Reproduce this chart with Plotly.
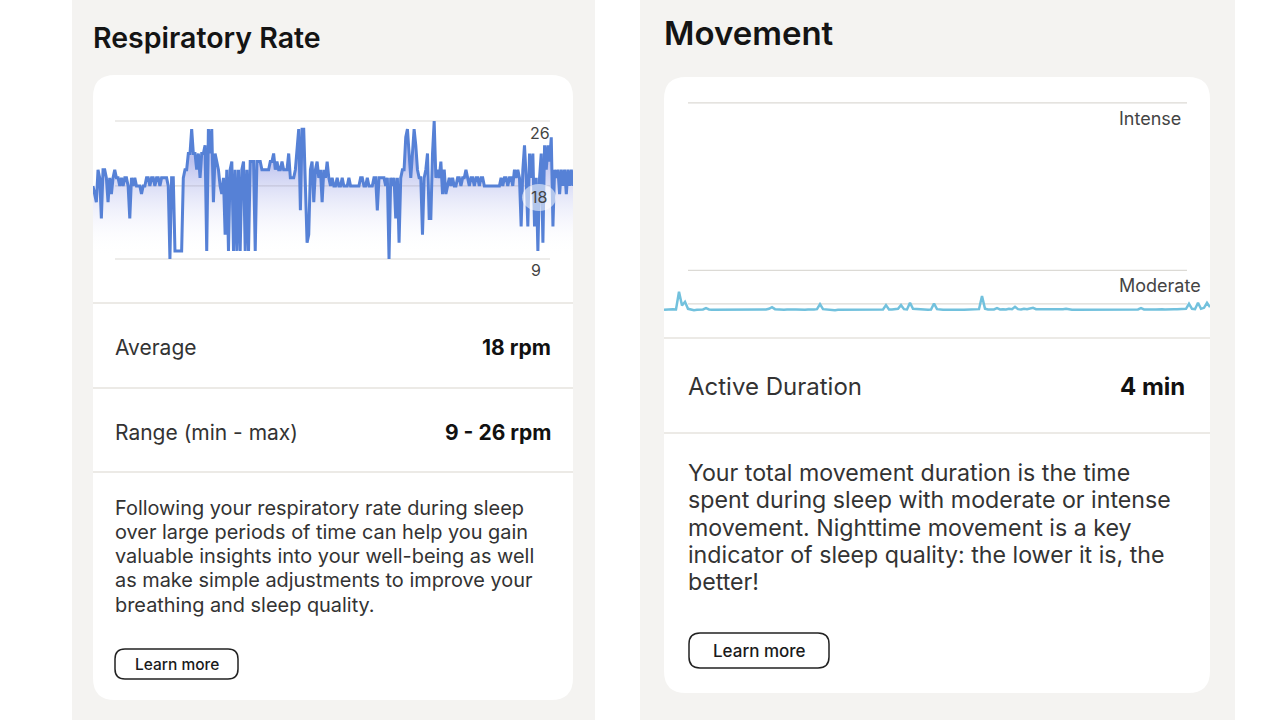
import plotly.graph_objects as go

# ---------------- data ----------------
resp_values = [
    18, 17, 16, 20, 19, 14, 20, 20, 19, 16, 19, 17, 19, 20, 19, 19, 18, 19, 18, 19,
    19, 18, 14, 19, 18, 19, 18, 18, 18, 17, 18, 18, 19, 19, 18, 19, 19, 18, 19, 19,
    18, 19, 19, 19, 19, 18, 9, 19, 19, 10, 10, 10, 10, 10, 19, 20, 20, 22, 22, 25,
    22, 22, 20, 22, 19, 22, 22, 23, 10, 25, 22, 25, 16, 22, 21, 20, 18, 17, 19, 12,
    20, 10, 20, 21, 10, 20, 10, 20, 10, 20, 21, 10, 20, 10, 21, 21, 21, 10, 21, 21,
    21, 20, 20, 20, 20, 20, 21, 21, 22, 20, 21, 20, 20, 21, 20, 20, 20, 22, 19, 19,
    19, 20, 23, 25, 15, 25, 25, 19, 11, 12, 20, 21, 16, 20, 21, 19, 20, 16, 20, 19,
    21, 19, 18, 19, 18, 18, 19, 18, 18, 19, 18, 18, 18, 19, 18, 18, 18, 18, 18, 18,
    19, 19, 18, 18, 19, 18, 18, 18, 19, 19, 15, 19, 19, 19, 19, 18, 19, 9, 19, 18,
    19, 14, 19, 11, 19, 20, 20, 24, 25, 22, 19, 22, 25, 23, 20, 19, 19, 12, 19, 20,
    22, 14, 14, 22, 26, 19, 20, 19, 21, 17, 20, 17, 18, 19, 18, 19, 18, 18, 19, 19,
    18, 19, 19, 20, 19, 18, 19, 19, 18, 19, 19, 18, 19, 19, 18, 18, 18, 18, 18, 18,
    18, 18, 18, 18, 19, 18, 19, 19, 18, 19, 19, 18, 20, 19, 20, 19, 13, 20, 23, 19,
    13, 22, 19, 22, 13, 19, 10, 19, 22, 11, 23, 20, 23, 21, 24, 13, 20, 19, 20, 17,
    20, 18, 20, 17, 20, 18, 20, 18,
]
resp_ticks = [9, 18, 26]
resp_tick_labels = ["9", "18", "26"]

move_values = [
    0.02, 0.03, 0.02, 0.04, 0.03, 0.56, 0.15, 0.26, 0.05, 0.02, 0.01, 0.02, 0.02, 0.03, 0.07, 0.03, 0.02, 0.02, 0.01, 0.02,
    0.02, 0.01, 0.02, 0.02, 0.01, 0.02, 0.02, 0.01, 0.01, 0.02, 0.02, 0.01, 0.01, 0.02, 0.03, 0.05, 0.10, 0.04, 0.03, 0.03,
    0.02, 0.03, 0.02, 0.03, 0.03, 0.02, 0.03, 0.02, 0.03, 0.02, 0.03, 0.04, 0.19, 0.04, 0.03, 0.02, 0.02, 0.01, 0.02, 0.02,
    0.01, 0.02, 0.02, 0.01, 0.02, 0.02, 0.02, 0.02, 0.02, 0.03, 0.02, 0.02, 0.03, 0.03, 0.16, 0.03, 0.03, 0.04, 0.05, 0.16,
    0.04, 0.03, 0.23, 0.05, 0.04, 0.03, 0.03, 0.02, 0.02, 0.03, 0.21, 0.04, 0.02, 0.02, 0.02, 0.01, 0.02, 0.02, 0.03, 0.02,
    0.02, 0.02, 0.02, 0.02, 0.03, 0.04, 0.43, 0.05, 0.03, 0.04, 0.03, 0.07, 0.03, 0.04, 0.03, 0.05, 0.04, 0.11, 0.04, 0.03,
    0.05, 0.04, 0.05, 0.08, 0.04, 0.04, 0.03, 0.04, 0.03, 0.03, 0.02, 0.03, 0.03, 0.04, 0.05, 0.03, 0.02, 0.02, 0.02, 0.02,
    0.02, 0.02, 0.02, 0.02, 0.02, 0.02, 0.02, 0.03, 0.02, 0.02, 0.02, 0.02, 0.03, 0.02, 0.02, 0.03, 0.03, 0.04, 0.03, 0.07,
    0.03, 0.03, 0.04, 0.03, 0.03, 0.04, 0.04, 0.03, 0.04, 0.05, 0.04, 0.04, 0.05, 0.04, 0.05, 0.20, 0.05, 0.04, 0.23, 0.05,
    0.08, 0.23, 0.10,
]
move_levels = [0.2, 1.2, 6.2]
move_level_labels = ["", "Moderate", "Intense"]

resp_rows = [("Average", "18 rpm"), ("Range (min - max)", "9 - 26 rpm")]
resp_text = [
    "Following your respiratory rate during sleep",
    "over large periods of time can help you gain",
    "valuable insights into your well-being as well",
    "as make simple adjustments to improve your",
    "breathing and sleep quality.",
]
move_rows = [("Active Duration", "4 min")]
move_text = [
    "Your total movement duration is the time",
    "spent during sleep with moderate or intense",
    "movement. Nighttime movement is a key",
    "indicator of sleep quality: the lower it is, the",
    "better!",
]

# ---------------- helpers ----------------
W, H = 1280, 720
FONT = "Inter"


def X(px):
    return px / W


def Y(py):
    return 1 - py / H


def rrect(x0, y0, x1, y1, r):
    return (
        f"M {X(x0 + r)},{Y(y0)} L {X(x1 - r)},{Y(y0)} Q {X(x1)},{Y(y0)} {X(x1)},{Y(y0 + r)} "
        f"L {X(x1)},{Y(y1 - r)} Q {X(x1)},{Y(y1)} {X(x1 - r)},{Y(y1)} "
        f"L {X(x0 + r)},{Y(y1)} Q {X(x0)},{Y(y1)} {X(x0)},{Y(y1 - r)} "
        f"L {X(x0)},{Y(y0 + r)} Q {X(x0)},{Y(y0)} {X(x0 + r)},{Y(y0)} Z"
    )


shapes = []
annotations = []


def text(px, py, s, size, color="#333333", weight=400, anchor="left", yanchor="middle"):
    shift = {"left": -2, "right": 2, "center": 0}[anchor]
    annotations.append(dict(
        x=X(px), y=Y(py), xref="paper", yref="paper", text=s, showarrow=False,
        xanchor=anchor, yanchor=yanchor, xshift=shift,
        font=dict(family=FONT, size=size, color=color, weight=weight),
    ))


def hline(px0, px1, py, color="#e6e3de", width=1.5):
    shapes.append(dict(type="line", xref="paper", yref="paper", x0=X(px0), x1=X(px1),
                       y0=Y(py), y1=Y(py), line=dict(color=color, width=width), layer="below"))


# panels
for (a, b) in [(72, 595), (640, 1235)]:
    shapes.append(dict(type="rect", xref="paper", yref="paper", x0=X(a), x1=X(b), y0=0, y1=1,
                       fillcolor="#f4f3f1", line=dict(width=0), layer="below"))
# cards
shapes.append(dict(type="path", xref="paper", yref="paper", path=rrect(93, 75, 573, 700, 22),
                   fillcolor="#ffffff", line=dict(width=0), layer="below"))
shapes.append(dict(type="path", xref="paper", yref="paper", path=rrect(664, 77, 1210, 693, 22),
                   fillcolor="#ffffff", line=dict(width=0), layer="below"))

# dividers
for py in [303, 388, 472]:
    hline(93, 573, py)
for py in [338, 433]:
    hline(664, 1210, py)

# chart gridlines (data y positions)
for v in resp_ticks:
    shapes.append(dict(type="line", xref="paper", yref="y", x0=X(115), x1=X(550), y0=v, y1=v,
                       line=dict(color="#dcdad5", width=1.2), layer="below"))
for v in move_levels:
    shapes.append(dict(type="line", xref="paper", yref="y2", x0=X(688), x1=X(1187), y0=v, y1=v,
                       line=dict(color="#dcdad5", width=1.2), layer="below"))

# bubble behind the "18" label
shapes.append(dict(type="circle", xref="paper", yref="paper", x0=X(522), x1=X(556), y0=Y(184), y1=Y(211),
                   fillcolor="rgba(255,255,255,0.55)", line=dict(width=0), layer="above"))

# buttons
shapes.append(dict(type="path", xref="paper", yref="paper", path=rrect(115, 649, 238, 679, 10),
                   fillcolor="rgba(0,0,0,0)", line=dict(color="#222222", width=1.5), layer="above"))
shapes.append(dict(type="path", xref="paper", yref="paper", path=rrect(689, 633, 829, 668, 11),
                   fillcolor="rgba(0,0,0,0)", line=dict(color="#222222", width=1.5), layer="above"))

# ---------------- texts ----------------
text(93, 37, "Respiratory Rate", 28.5, "#141414", 600)
text(664, 33, "Movement", 33, "#141414", 600)

for (lab, val), py in zip(resp_rows, [347, 432]):
    text(115, py, lab, 21, "#333333", 400)
    text(551, py, val, 21, "#111111", 700, anchor="right")
for s, py in zip(resp_text, [508, 532, 556, 580, 605]):
    text(115, py, s, 19.9, "#333333", 400)
text(176.5, 664, "Learn more", 15.5, "#1a1a1a", 500, anchor="center")

for (lab, val), py in zip(move_rows, [386]):
    text(688, py, lab, 24, "#333333", 400)
    text(1185, py, val, 24, "#111111", 700, anchor="right")
for s, py in zip(move_text, [473, 500, 528, 555, 582]):
    text(688, py, s, 23.2, "#333333", 400)
text(759, 651, "Learn more", 17, "#1a1a1a", 500, anchor="center")

# tick labels of the respiratory chart
tick_pos = {26: (550, 133, "right"), 18: (539, 197, "center"), 9: (536, 270, "center")}
for v, lab in zip(resp_ticks, resp_tick_labels):
    px, py, anc = tick_pos[v]
    text(px, py, lab, 16, "#444444", 400, anchor=anc)

# level labels of the movement chart
for v, lab in zip(move_levels, move_level_labels):
    if lab:
        annotations.append(dict(
            x=X(1183) if lab == "Intense" else X(1203), y=v, xref="paper", yref="y2",
            text=lab, showarrow=False, xanchor="right", yanchor="top", yshift=-3,
            font=dict(family=FONT, size=18, color="#444444"),
        ))

# ---------------- traces ----------------
fig = go.Figure()
fig.add_trace(go.Scatter(
    x=list(range(len(resp_values))), y=resp_values, mode="lines",
    line=dict(color="#5681d6", width=3, shape="linear"),
    fill="tozeroy",
    fillgradient=dict(type="vertical",
                      colorscale=[[0, "rgba(255,255,255,0)"], [1, "rgba(125,135,222,0.5)"]],
                      start=9.5, stop=21),
    xaxis="x", yaxis="y", hoverinfo="skip", showlegend=False,
))
fig.add_trace(go.Scatter(
    x=list(range(len(move_values))), y=move_values, mode="lines",
    line=dict(color="#72c1dd", width=2.5),
    xaxis="x2", yaxis="y2", hoverinfo="skip", showlegend=False,
))

fig.update_layout(
    width=W, height=H, margin=dict(l=0, r=0, t=0, b=0),
    paper_bgcolor="#ffffff", plot_bgcolor="rgba(0,0,0,0)",
    xaxis=dict(domain=[X(93), X(573)], range=[0, len(resp_values) - 1], visible=False),
    yaxis=dict(domain=[Y(262), Y(100)], range=[8.63, 28.59], visible=False),
    xaxis2=dict(domain=[X(664), X(1210)], range=[0, len(move_values) - 1], visible=False, anchor="y2"),
    yaxis2=dict(domain=[Y(318), Y(95)], range=[-0.224, 6.433], visible=False, anchor="x2"),
    shapes=shapes, annotations=annotations,
)

fig.write_html("out.html")
